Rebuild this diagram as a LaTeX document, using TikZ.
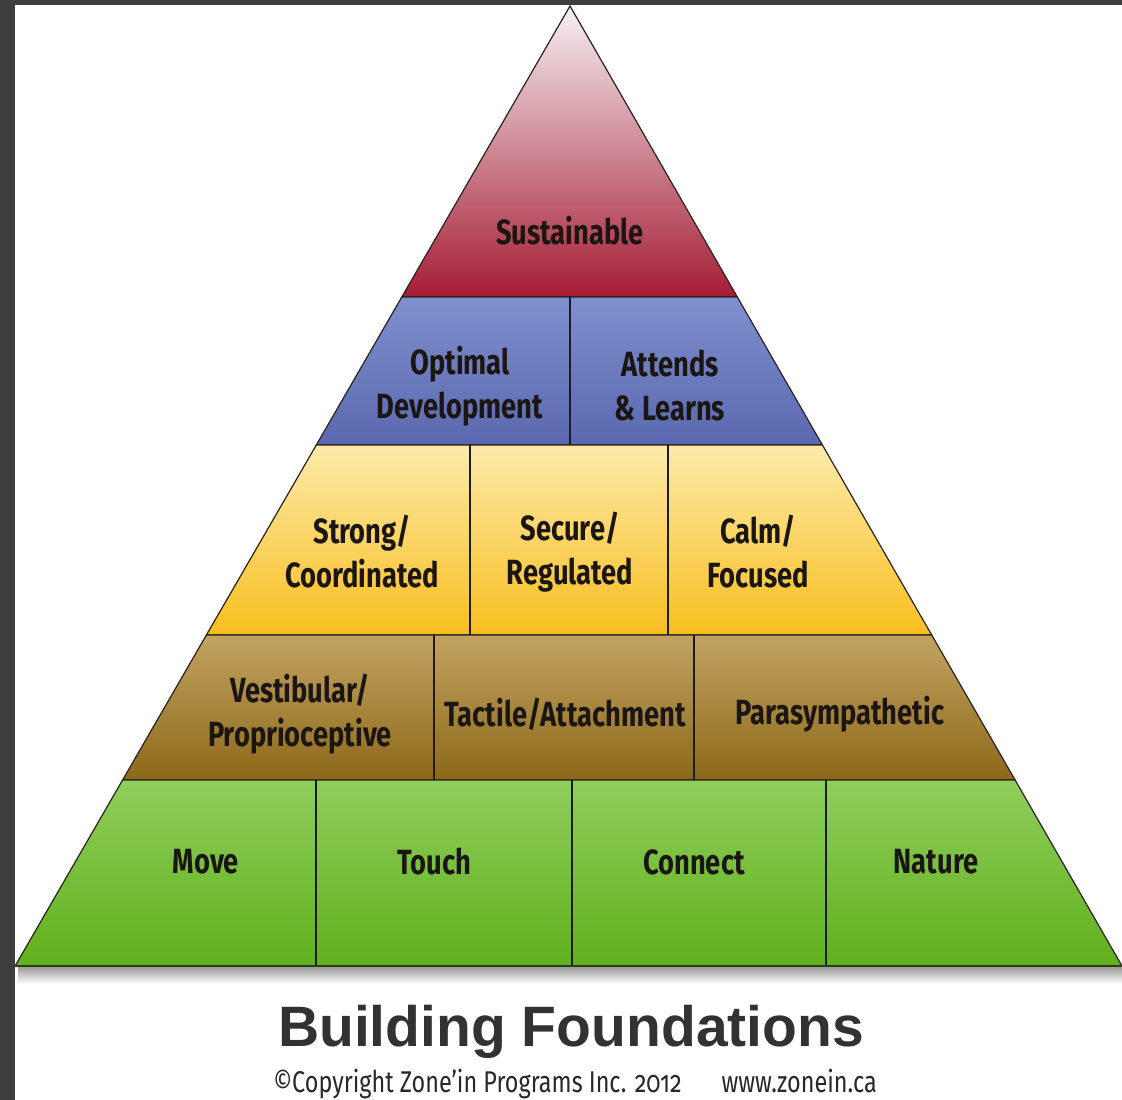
\documentclass[tikz,border=0pt]{standalone}
\usepackage{fontspec}
\newfontfamily\tierfont[FakeStretch=0.78,Numbers=OldStyle]{Fira Sans}
\newfontfamily\titlefont{Liberation Sans}
\begin{document}
\begin{tikzpicture}[x=1pt,y=-1pt,
	tier/.style={draw={rgb,255:red,40;green,35;blue,30},line width=1.2pt,line join=miter},
	divider/.style={draw={rgb,255:red,30;green,28;blue,25},line width=1.6pt},
	tierlabel/.style={font=\tierfont\bfseries\fontsize{35}{44}\selectfont,align=center,text={rgb,255:red,28;green,22;blue,18},inner sep=0pt}]
	\useasboundingbox (0,0) rectangle (1122,1100);
	\fill[white] (0,0) rectangle (1122,1100);
	\fill[color={rgb,255:red,62;green,62;blue,62}] (0,0) rectangle (15,1100);
	\fill[color={rgb,255:red,62;green,62;blue,62}] (0,0) rectangle (1122,5);
	\shade[top color={rgb,255:red,150;green,150;blue,150},bottom color=white] (18,966) rectangle (1122,984);
	\shade[tier,top color={rgb,255:red,246;green,240;blue,242},bottom color={rgb,255:red,165;green,28;blue,52}] (570,6) -- (737.3,297) -- (401.8,297) -- cycle;
	\shade[tier,top color={rgb,255:red,128;green,143;blue,205},bottom color={rgb,255:red,90;green,104;blue,175}] (401.8,297) -- (737.3,297) -- (822.4,445) -- (316.3,445) -- cycle;
	\shade[tier,top color={rgb,255:red,253;green,234;blue,170},bottom color={rgb,255:red,248;green,190;blue,30}] (316.3,445) -- (822.4,445) -- (931.7,635) -- (206.4,635) -- cycle;
	\shade[tier,top color={rgb,255:red,194;green,163;blue,98},bottom color={rgb,255:red,140;green,104;blue,24}] (206.4,635) -- (931.7,635) -- (1015.1,780) -- (122.6,780) -- cycle;
	\shade[tier,top color={rgb,255:red,144;green,206;blue,92},bottom color={rgb,255:red,96;green,176;blue,28}] (122.6,780) -- (1015.1,780) -- (1122,966) -- (15.1,966) -- cycle;
	\draw[divider] (570,297) -- (570,445);
	\draw[divider] (470,445) -- (470,635);
	\draw[divider] (668,445) -- (668,635);
	\draw[divider] (434,635) -- (434,780);
	\draw[divider] (694,635) -- (694,780);
	\draw[divider] (316,780) -- (316,966);
	\draw[divider] (572,780) -- (572,966);
	\draw[divider] (826,780) -- (826,966);
	\draw[line width=2pt,color={rgb,255:red,45;green,60;blue,25}] (15.1,966) -- (1122,966);
	\node[tierlabel] (sustain) at (570,231) {Sustainable};
	\node[tierlabel] (optimal) at (460,386) {Optimal\\Development};
	\node[tierlabel] (attends) at (670,386) {Attends\\\& Learns};
	\node[tierlabel] (strong) at (362,552) {Strong/\\Coordinated};
	\node[tierlabel] (secure) at (570,552) {Secure/\\Regulated};
	\node[tierlabel] (calm) at (758,552) {Calm/\\Focused};
	\node[tierlabel] (vestib) at (300,714) {Vestibular/\\Proprioceptive};
	\node[tierlabel] (tactile) at (565,714) {Tactile/Attachment};
	\node[tierlabel] (parasym) at (840,714) {Parasympathetic};
	\node[tierlabel] (move) at (206,862) {Move};
	\node[tierlabel] (touch) at (434,862) {Touch};
	\node[tierlabel] (connect) at (694,862) {Connect};
	\node[tierlabel] (nature) at (936,862) {Nature};
	\node[font=\titlefont\bfseries\fontsize{57}{62}\selectfont,text={rgb,255:red,50;green,50;blue,50},inner sep=0pt] (title) at (571,1032) {Building Foundations};
	\node[font=\tierfont\fontsize{30}{34}\selectfont,text={rgb,255:red,40;green,40;blue,40},inner sep=0pt] (copyright) at (575,1084) {©Copyright Zone’in Programs Inc. 2012\hspace{40pt}www.zonein.ca};
\end{tikzpicture}
\end{document}
